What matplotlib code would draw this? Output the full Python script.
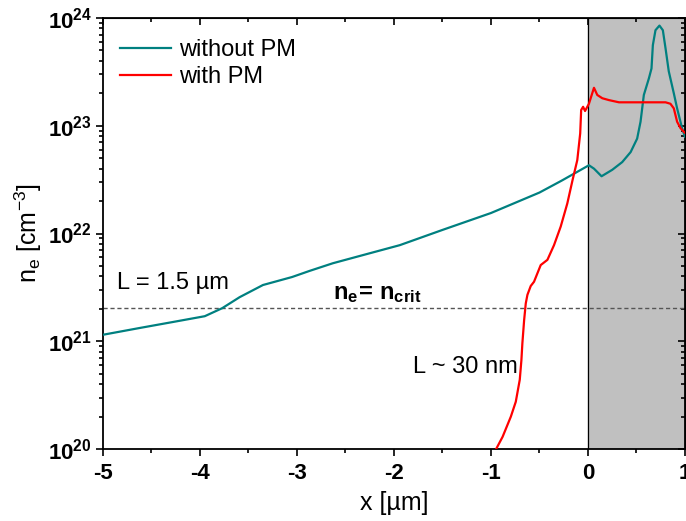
import numpy as np
import matplotlib
matplotlib.use("Agg")
import matplotlib.pyplot as plt
from matplotlib.ticker import FixedLocator, LogLocator, NullFormatter

plt.rcParams["font.family"] = ["Liberation Sans", "DejaVu Sans"]
plt.rcParams["mathtext.fontset"] = "custom"
plt.rcParams["mathtext.rm"] = "Liberation Sans"
plt.rcParams["mathtext.it"] = "Liberation Sans"
plt.rcParams["mathtext.bf"] = "Liberation Sans:bold"

# electron density without plasma mirror (x in um, n_e in cm^-3)
x_nopm = [-5.0, -4.62, -4.28, -3.95, -3.77, -3.59, -3.35, -3.05, -2.87, -2.63,
          -2.28, -1.94, -1.5, -1.0, -0.5, -0.27, 0.01, 0.062, 0.14, 0.25, 0.353,
          0.44, 0.507, 0.542, 0.576, 0.628, 0.655, 0.669, 0.696, 0.737, 0.772,
          0.80, 0.833, 0.885, 0.919, 0.97, 1.0]
n_nopm = [1.15e21, 1.33e21, 1.51e21, 1.71e21, 2.03e21, 2.57e21, 3.33e21, 3.95e21,
          4.5e21, 5.3e21, 6.45e21, 7.8e21, 1.08e22, 1.55e22, 2.4e22, 3.1e22,
          4.3e22, 4.0e22, 3.4e22, 3.9e22, 4.6e22, 5.7e22, 7.6e22, 1.09e23,
          1.93e23, 2.75e23, 3.4e23, 5.6e23, 7.7e23, 8.5e23, 7.7e23, 5.2e23,
          3.2e23, 2.0e23, 1.45e23, 9.5e22, 7.9e22]

# electron density with plasma mirror
x_pm = [-0.947, -0.88, -0.795, -0.744, -0.703, -0.686, -0.676, -0.658, -0.641,
        -0.624, -0.59, -0.556, -0.487, -0.418, -0.35, -0.281, -0.213, -0.16,
        -0.11, -0.08, -0.07, -0.05, -0.03, 0.01, 0.062, 0.096, 0.148, 0.216,
        0.32, 0.80, 0.85, 0.885, 0.919, 0.954, 0.988, 1.0]
n_pm = [1.0e20, 1.3e20, 2.0e20, 2.75e20, 4.4e20, 6.7e20, 9.6e20, 1.57e21, 2.25e21,
        2.7e21, 3.26e21, 3.57e21, 5.1e21, 5.7e21, 7.8e21, 1.16e22, 1.9e22, 3.1e22,
        4.8e22, 8.5e22, 1.4e23, 1.5e23, 1.37e23, 1.6e23, 2.25e23, 1.93e23,
        1.8e23, 1.73e23, 1.65e23, 1.65e23, 1.6e23, 1.45e23, 1.09e23, 9.5e22,
        8.8e22, 8.6e22]

n_crit = 2.05e21

x_major = [-5, -4, -3, -2, -1, 0, 1]
x_labels = ["-5", "-4", "-3", "-2", "-1", "0", "1"]
y_major = [1e20, 1e21, 1e22, 1e23, 1e24]

fig = plt.figure(figsize=(6.86, 5.21), dpi=100)
ax = fig.add_axes([0.150, 0.138, 0.8485, 0.8275])

# target region
ax.axvspan(0, 1, color="#c0c0c0", zorder=0)
ax.axvline(0, color="black", lw=0.9, zorder=1)

ax.axhline(n_crit, color="#555555", lw=1.0, ls=(0, (3, 2)), zorder=2)

ax.plot(x_nopm, n_nopm, color="#008080", lw=1.6, label="without PM", zorder=3)
ax.plot(x_pm, n_pm, color="#ff0000", lw=1.6, label="with PM", zorder=3)

ax.set_yscale("log")
ax.set_xlim(-5, 1)
ax.set_ylim(1e20, 1e24)

ax.xaxis.set_major_locator(FixedLocator(x_major))
ax.xaxis.set_minor_locator(FixedLocator(np.arange(-4.5, 1, 1.0)))
ax.set_xticklabels(x_labels, fontweight="bold", fontsize=16)

ax.yaxis.set_major_locator(FixedLocator(y_major))
ax.yaxis.set_minor_locator(LogLocator(base=10, subs=np.arange(2, 10), numticks=20))
ax.yaxis.set_minor_formatter(NullFormatter())
ax.set_yticklabels([r"$\mathbf{10^{%d}}$" % int(np.log10(v)) for v in y_major], fontsize=16)

ax.tick_params(which="both", direction="out", top=False, right=False, width=1.2)
ax.tick_params(which="major", length=5)
ax.tick_params(which="minor", length=3)
ax.tick_params(axis="x", pad=5)
ax.tick_params(axis="y", pad=3)

# mirrored ticks on top and right, pointing inward
secx = ax.secondary_xaxis("top")
secx.xaxis.set_major_locator(FixedLocator(x_major))
secx.xaxis.set_minor_locator(FixedLocator(np.arange(-4.5, 1, 1.0)))
secx.tick_params(which="both", direction="in", labeltop=False, width=1.2)
secx.tick_params(which="major", length=5)
secx.tick_params(which="minor", length=3)
secy = ax.secondary_yaxis("right")
secy.set_yscale("log")
secy.yaxis.set_major_locator(FixedLocator(y_major))
secy.yaxis.set_minor_locator(LogLocator(base=10, subs=np.arange(2, 10), numticks=20))
secy.yaxis.set_minor_formatter(NullFormatter())
secy.tick_params(which="both", direction="in", labelright=False, width=1.2)
secy.tick_params(which="major", length=5)
secy.tick_params(which="minor", length=3)

for sp in ax.spines.values():
    sp.set_linewidth(1.3)

ax.set_xlabel("x [µm]", fontsize=18, labelpad=5)
ax.set_ylabel(r"n$_\mathregular{e}$ [cm$^\mathregular{-3}$]", fontsize=18, labelpad=3)

ax.text(-4.85, 3.5e21, "L = 1.5 µm", fontsize=17, va="center", ha="left")
ax.text(-2.63, 2.15e21, r"$\mathbf{n_e\!=\,n_{crit}}$", fontsize=17, va="bottom", ha="left")
ax.text(-1.80, 5.8e20, "L ~ 30 nm", fontsize=17, va="center", ha="left")

ax.legend(loc="upper left", bbox_to_anchor=(-0.012, 1.005), frameon=False, fontsize=17,
          handlelength=2.2, handletextpad=0.3, labelspacing=0.2, borderaxespad=0.6)

fig.savefig("out.png", dpi=100)
